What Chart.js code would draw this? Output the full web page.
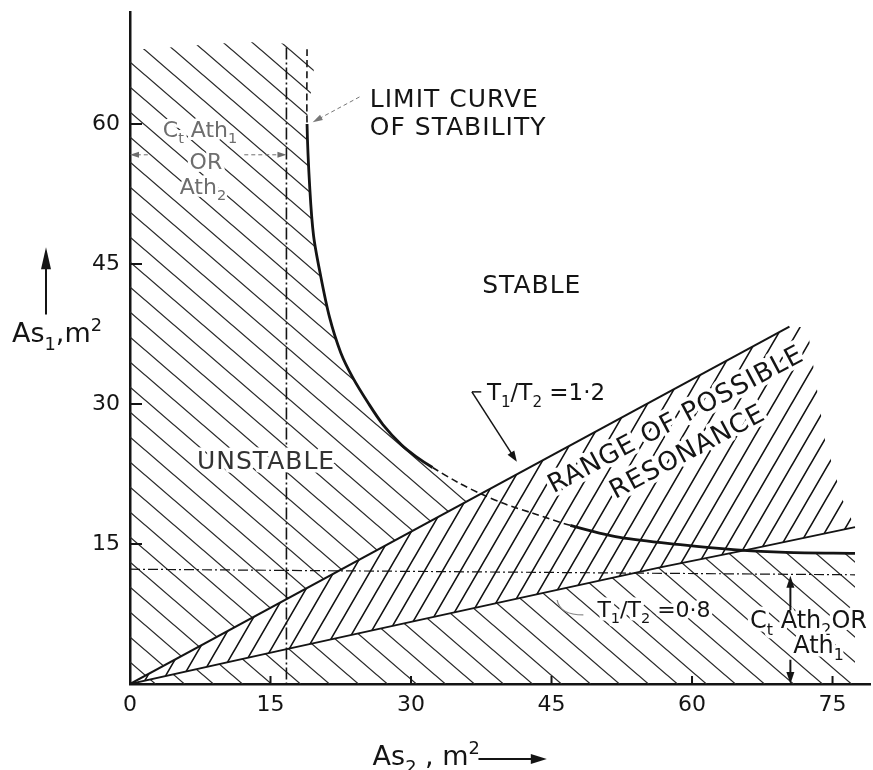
<!DOCTYPE html>
<html>
<head>
<meta charset="utf-8">
<script src="https://cdn.jsdelivr.net/npm/chart.js@4.4.1/dist/chart.umd.min.js"></script>
<style>
  html, body { margin: 0; padding: 0; background: #fff; }
  #wrap { width: 873px; height: 770px; }
</style>
</head>
<body>
<div id="wrap"><canvas id="chart" width="873" height="770"></canvas></div>
<script>
// ── values: As2 (m²) on x, As1 (m²) on y ──
const xTicks = [0, 15, 30, 45, 60, 75];
const yTicks = [15, 30, 45, 60];

// limit curve of stability (vertical at the top, flattening out to the right)
const limitCurve = [
  [18.9, 68], [18.9, 60], [19.2, 53], [19.6, 48], [20.3, 44], [21.3, 39.3],
  [22.5, 35.5], [23.8, 32.8], [25.5, 30], [27, 27.8], [29, 25.6], [30.5, 24.4],
  [32.3, 23.2], [35, 21.6], [37.4, 20.4], [40, 19.3], [43, 18.3], [47, 17],
  [52.3, 15.7], [59, 14.9], [64.4, 14.4], [70, 14.1], [77.4, 14]
];
// T1/T2 = 1.2 and T1/T2 = 0.8
const ratio12 = [[0, 0], [70.4, 38.3]];
const ratio08 = [[0, 0], [16.6, 3.7], [38.4, 8.5], [56.6, 12.5], [66.5, 14.5], [77.4, 16.8]];
// ragged right edge of the resonance hatching, between the two ratio lines
const resonanceEdge = [[72.3, 38.2], [74.2, 26.1], [76.1, 19.7], [77.4, 16.8]];
// Ct·Ath2 or Ath1 (horizontal) and Ct·Ath1 or Ath2 (vertical)
const athLevel = [[0, 12.3], [77.4, 11.7]];
const athLimit = [[16.7, 68.2], [16.7, 0]];
// top edge of the unstable hatching
const hatchTop = [[0, 68]];

const INK = '#141414';
const FONT = '"DejaVu Sans", Verdana, sans-serif';
const pts = arr => arr.map(([x, y]) => ({ x, y }));

// hatch pattern: parallel strokes, one per tile, tile w x h sets the slope
function hatch(w, h, dir, color, width, bg) {
  const c = document.createElement('canvas');
  c.width = w; c.height = h;
  const g = c.getContext('2d');
  if (bg) { g.fillStyle = bg; g.fillRect(0, 0, w, h); }
  g.strokeStyle = color;
  g.lineWidth = width;
  g.beginPath();
  for (let k = -1; k <= 1; k++) {
    if (dir === 'down') { g.moveTo(k * w - w, -h); g.lineTo(k * w + 2 * w, 2 * h); }
    else { g.moveTo(k * w - w, 2 * h); g.lineTo(k * w + 2 * w, -h); }
  }
  g.stroke();
  return g.createPattern(c, 'repeat');
}

const unstableHatch = hatch(29, 25, 'down', '#2a2a2a', 1.3, null);
const resonanceHatch = hatch(18, 31, 'up', '#111', 1.6, '#fff');

// text with sub / superscripts, parts = [[text, 'sub'|'sup'|undefined], ...]
// o.halo paints a white knock-out behind the letters, like the gaps in the hatching
function richText(ctx, parts, x, y, size, o = {}) {
  const small = size * 0.66;
  const spacing = o.spacing || 0;
  ctx.save();
  ctx.letterSpacing = spacing + 'px';
  const widths = parts.map(([t, m]) => {
    ctx.font = `${m ? small : size}px ${FONT}`;
    return ctx.measureText(t).width;
  });
  const total = widths.reduce((a, b) => a + b, 0);
  ctx.translate(x, y);
  if (o.rotate) ctx.rotate(o.rotate);
  ctx.textBaseline = 'alphabetic';
  ctx.textAlign = 'left';
  const start = o.align === 'center' ? -total / 2 : 0;
  const pass = halo => {
    let cx = start;
    parts.forEach(([t, m], i) => {
      ctx.font = `${m ? small : size}px ${FONT}`;
      const dy = m === 'sub' ? size * 0.28 : m === 'sup' ? -size * 0.42 : 0;
      if (halo) ctx.strokeText(t, cx, dy); else ctx.fillText(t, cx, dy);
      cx += widths[i];
    });
  };
  if (o.halo) {
    ctx.strokeStyle = '#fff';
    ctx.lineWidth = o.halo;
    ctx.lineJoin = 'round';
    pass(true);
  }
  ctx.fillStyle = o.color || INK;
  pass(false);
  ctx.restore();
}

function arrow(ctx, x1, y1, x2, y2, o = {}) {
  const { color = INK, width = 1.5, head = 12, half = 4, dash = null } = o;
  const a = Math.atan2(y2 - y1, x2 - x1);
  const ca = Math.cos(a), sa = Math.sin(a);
  ctx.save();
  ctx.strokeStyle = color; ctx.fillStyle = color; ctx.lineWidth = width;
  if (dash) ctx.setLineDash(dash);
  ctx.beginPath();
  ctx.moveTo(x1, y1);
  ctx.lineTo(x2 - ca * head * 0.8, y2 - sa * head * 0.8);
  ctx.stroke();
  ctx.setLineDash([]);
  ctx.beginPath();
  ctx.moveTo(x2, y2);
  ctx.lineTo(x2 - ca * head + sa * half, y2 - sa * head - ca * half);
  ctx.lineTo(x2 - ca * head - sa * half, y2 - sa * head + ca * half);
  ctx.closePath();
  ctx.fill();
  ctx.restore();
}

const annotations = {
  id: 'annotations',
  beforeDraw(chart) {
    const { ctx } = chart;
    ctx.save();
    ctx.fillStyle = '#fff';
    ctx.fillRect(0, 0, chart.width, chart.height);
    ctx.restore();
  },
  afterDraw(chart) {
    const { ctx, chartArea: area } = chart;
    const xs = chart.scales.x, ys = chart.scales.y;
    const px = v => xs.getPixelForValue(v);
    const py = v => ys.getPixelForValue(v);

    // inward tick marks
    ctx.save();
    ctx.strokeStyle = INK;
    ctx.lineWidth = 2;
    ctx.beginPath();
    xTicks.filter(v => v > 0).forEach(v => { ctx.moveTo(px(v), area.bottom); ctx.lineTo(px(v), area.bottom - 8); });
    yTicks.forEach(v => { ctx.moveTo(area.left, py(v)); ctx.lineTo(area.left + 12, py(v)); });
    ctx.stroke();
    ctx.restore();

    // region names
    richText(ctx, [['LIMIT CURVE']], px(25.6), py(61.8), 25, { spacing: 1 });
    richText(ctx, [['OF STABILITY']], px(25.6), py(58.8), 25, { spacing: 1 });
    arrow(ctx, px(24.5), py(62.9), px(19.5), py(60.2), { color: '#777', width: 1, dash: [4, 3], head: 10, half: 3 });
    richText(ctx, [['STABLE']], px(37.6), py(41.9), 25, { spacing: 1 });
    richText(ctx, [['UNSTABLE']], px(7.15), py(23.0), 25, { spacing: 1, color: '#333', halo: 7 });

    // Ct Ath1 or Ath2 (faded in the original)
    const faded = '#6e6e6e';
    richText(ctx, [['C'], ['t', 'sub'], [' Ath'], ['1', 'sub']], px(3.5), py(58.6), 22, { color: faded, halo: 6 });
    richText(ctx, [['OR']], px(8.1), py(55.2), 22, { color: faded, align: 'center', halo: 6 });
    richText(ctx, [['Ath'], ['2', 'sub']], px(5.3), py(52.5), 22, { color: faded, halo: 6 });
    arrow(ctx, px(1.9), py(56.7), px(0), py(56.7), { color: faded, width: 1, dash: [4, 3], head: 9, half: 3 });
    arrow(ctx, px(12.2), py(56.7), px(16.7), py(56.7), { color: faded, width: 1, dash: [4, 3], head: 9, half: 3 });

    // T1/T2 = 1.2 with leader
    richText(ctx, [['T'], ['1', 'sub'], ['/T'], ['2', 'sub'], [' =1·2']], px(38.1), py(30.4), 23);
    ctx.save();
    ctx.strokeStyle = INK; ctx.lineWidth = 1.5;
    ctx.beginPath();
    ctx.moveTo(px(37.5), py(31.3)); ctx.lineTo(px(36.5), py(31.3));
    ctx.stroke();
    ctx.restore();
    arrow(ctx, px(36.5), py(31.3), px(41.3), py(23.8), { width: 1.5, head: 11, half: 4 });

    // range of possible resonance (rotated along the band)
    const tilt = -28 * Math.PI / 180;
    richText(ctx, [['RANGE OF POSSIBLE']], px(45.2), py(20.4), 26, { rotate: tilt, spacing: 1, halo: 8 });
    richText(ctx, [['RESONANCE']], px(51.8), py(19.8), 26, { rotate: tilt, spacing: 1, halo: 8 });

    // T1/T2 = 0.8 with faint hook leader
    richText(ctx, [['T'], ['1', 'sub'], ['/T'], ['2', 'sub'], [' =0·8']], px(49.9), py(7.2), 22, { halo: 7 });
    ctx.save();
    ctx.strokeStyle = '#888'; ctx.lineWidth = 1.2;
    ctx.beginPath();
    ctx.moveTo(px(45.6), py(9.0));
    ctx.quadraticCurveTo(px(45.9), py(7.4), px(48.4), py(7.4));
    ctx.stroke();
    ctx.restore();

    // Ct Ath2 or Ath1 with arrows to the level line and the axis
    richText(ctx, [['C'], ['t', 'sub'], [' Ath'], ['2', 'sub'], ['OR']], px(66.2), py(6.0), 24, { halo: 7 });
    richText(ctx, [['Ath'], ['1', 'sub']], px(70.8), py(3.3), 24, { halo: 7 });
    arrow(ctx, px(70.5), py(7.9), px(70.5), py(11.6), { width: 2, head: 12, half: 4 });
    arrow(ctx, px(70.5), py(2.6), px(70.5), py(0), { width: 2, head: 12, half: 4 });

    // axis titles with their arrows
    richText(ctx, [['As'], ['1', 'sub'], [',m'], ['2', 'sup']], area.left - 118, py(36.6), 27);
    arrow(ctx, area.left - 84, py(39.6), area.left - 84, py(46.8), { width: 2, head: 22, half: 5 });
    richText(ctx, [['As'], ['2', 'sub'], [' , m'], ['2', 'sup']], px(25.9), area.bottom + 81, 27);
    arrow(ctx, px(37.2), area.bottom + 75, px(44.5), area.bottom + 75, { width: 2, head: 16, half: 5 });
  }
};

new Chart(document.getElementById('chart'), {
  type: 'scatter',
  data: {
    datasets: [
      { // 0: limit curve of stability
        data: pts(limitCurve), showLine: true, borderColor: INK, borderWidth: 2.8,
        tension: 0.3, pointRadius: 0, order: 1,
        segment: {
          borderDash: c => (c.p0.parsed.y > 60.5 || (c.p0.parsed.x >= 32 && c.p1.parsed.x <= 48)) ? [7, 4] : undefined,
          borderWidth: c => (c.p0.parsed.y > 60.5 || (c.p0.parsed.x >= 32 && c.p1.parsed.x <= 48)) ? 1.6 : 2.8
        }
      },
      { // 1: T1/T2 = 1.2
        data: pts(ratio12), showLine: true, borderColor: INK, borderWidth: 2, pointRadius: 0, order: 1
      },
      { // 2: T1/T2 = 0.8
        data: pts(ratio08), showLine: true, borderColor: INK, borderWidth: 1.8, pointRadius: 0, order: 1
      },
      { // 3: horizontal Ct Ath2 / Ath1 level
        data: pts(athLevel), showLine: true, borderColor: INK, borderWidth: 1.2, pointRadius: 0, order: 1,
        segment: { borderDash: [10, 3, 2, 3] }
      },
      { // 4: vertical Ct Ath1 / Ath2 limit
        data: pts(athLimit), showLine: true, borderColor: INK, borderWidth: 1.6, pointRadius: 0, order: 1,
        borderDash: [12, 3, 2, 3]
      },
      { // 5: band of possible resonance, filled down to the 0.8 line
        data: pts([...ratio12, ...resonanceEdge]), showLine: true, borderWidth: 0, pointRadius: 0,
        backgroundColor: resonanceHatch, fill: 2, order: 2
      },
      { // 6: unstable region under the limit curve
        data: pts([...hatchTop, ...limitCurve]), showLine: true, borderWidth: 0, pointRadius: 0,
        tension: 0.3, backgroundColor: unstableHatch, fill: 'origin', order: 3
      }
    ]
  },
  options: {
    responsive: false,
    animation: false,
    devicePixelRatio: 1,
    events: [],
    layout: { padding: { top: 12, right: 3, left: 0, bottom: 0 } },
    plugins: { legend: { display: false }, tooltip: { enabled: false } },
    scales: {
      x: {
        type: 'linear', min: 0, max: 79,
        afterFit: s => { s.height = 86; s.paddingLeft = 0; s.paddingRight = 0; },
        grid: { display: true, drawOnChartArea: false, drawTicks: false },
        border: { display: true, color: INK, width: 2.5 },
        ticks: {
          stepSize: xTicks[1] - xTicks[0], includeBounds: false, padding: 8,
          color: INK, font: { family: 'DejaVu Sans', size: 22 },
          callback: v => xTicks.includes(v) ? v : ''
        }
      },
      y: {
        type: 'linear', min: 0, max: 72,
        afterFit: s => { s.width = 130; s.paddingTop = 0; s.paddingBottom = 0; },
        grid: { display: true, drawOnChartArea: false, drawTicks: false },
        border: { display: true, color: INK, width: 2.5 },
        ticks: {
          stepSize: yTicks[1] - yTicks[0], includeBounds: false, padding: 10,
          color: INK, font: { family: 'DejaVu Sans', size: 22 },
          callback: v => yTicks.includes(v) ? v : ''
        }
      }
    }
  },
  plugins: [annotations]
});
</script>
</body>
</html>
